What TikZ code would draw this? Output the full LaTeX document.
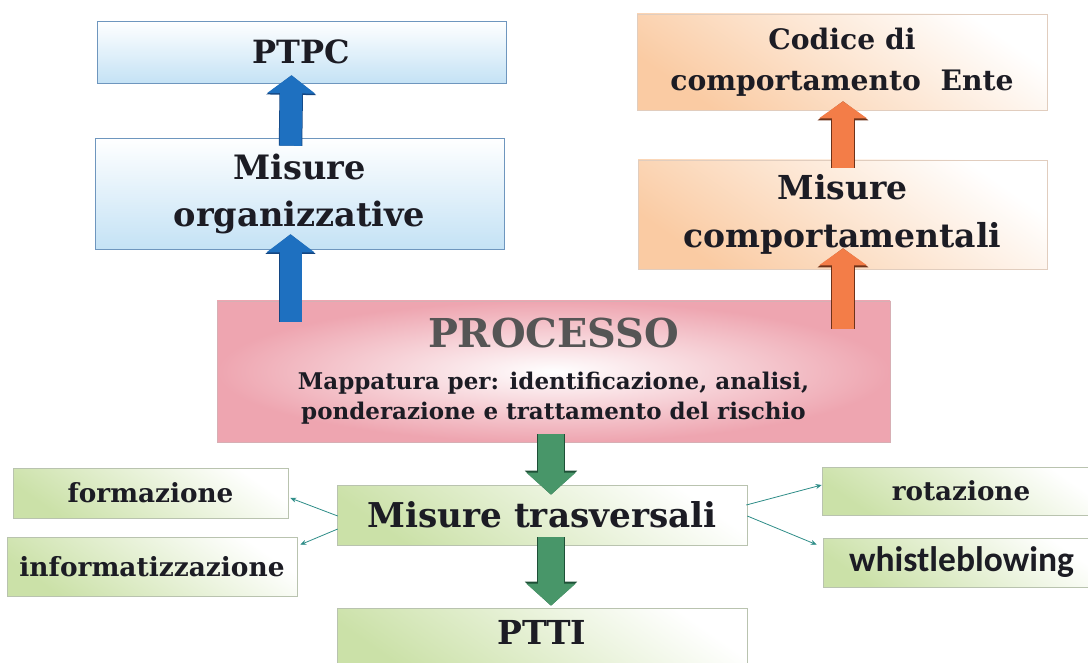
\documentclass[tikz,border=0pt]{standalone}
\usepackage{fontspec}
\setmainfont{DejaVu Serif}
\newfontfamily\calib{Carlito}
\usetikzlibrary{arrows.meta,calc}

\definecolor{inkc}{RGB}{28,28,36}
\definecolor{procgray}{RGB}{85,85,85}
\definecolor{bluefill}{RGB}{196,226,245}
\definecolor{bluebd}{RGB}{110,150,190}
\definecolor{orfill}{RGB}{250,203,163}
\definecolor{orbd}{RGB}{225,205,190}
\definecolor{pinkfill}{RGB}{238,165,176}
\definecolor{pinkbd}{RGB}{215,175,180}
\definecolor{grfill}{RGB}{203,225,168}
\definecolor{grbd}{RGB}{185,195,175}
\definecolor{bluearr}{RGB}{30,112,192}
\definecolor{bluedk}{RGB}{20,70,130}
\definecolor{orarr}{RGB}{243,125,72}
\definecolor{ordk}{RGB}{110,50,25}
\definecolor{grarr}{RGB}{72,150,105}
\definecolor{grdk}{RGB}{30,80,55}
\definecolor{linkc}{RGB}{45,140,135}

\tikzset{
  box/.style={line width=0.6pt, inner sep=0pt, align=center, text=inkc},
  bluebox/.style={box, draw=bluebd, top color=white, bottom color=bluefill},
  orbox/.style={box, draw=orbd, top color=white, bottom color=orfill, shading angle=-35},
  pinkbox/.style={box, draw=pinkbd, inner color=white, outer color=pinkfill},
  grbox/.style={box, draw=grbd, top color=white, bottom color=grfill, shading angle=-35},
  bluearrow/.style={draw=bluearr, line width=22pt, -{Triangle[width=47pt,length=18pt]},
    preaction={draw=bluedk, line width=23.5pt, -{Triangle[width=49pt,length=19.5pt]}}},
  orarrow/.style={draw=orarr, line width=22pt, -{Triangle[width=47pt,length=17pt]},
    preaction={draw=ordk, line width=24pt, -{Triangle[width=50pt,length=19pt]}}},
  grarrow/.style={draw=grarr, line width=26pt, -{Triangle[width=48pt,length=22pt]},
    preaction={draw=grdk, line width=28pt, -{Triangle[width=51pt,length=24pt]}}},
  thinarrow/.style={draw=linkc, line width=0.8pt, -{Stealth[length=6pt,width=5pt]}}
}

\begin{document}
\begin{tikzpicture}[x=1pt,y=-1pt]
\useasboundingbox (0,0) rectangle (1088,663);
\clip (0,0) rectangle (1088,663);
\node[bluebox, minimum width=409, minimum height=62, font=\bfseries\fontsize{32}{38}\selectfont] (ptpc) at (301.5,52) {PTPC};
\node[bluebox, minimum width=409, minimum height=111, font=\bfseries\fontsize{33.6}{47}\selectfont] (org) at (299.5,193.5) {Misure\\organizzative};
\node[orbox, minimum width=410, minimum height=96, font=\bfseries\fontsize{28.2}{41}\selectfont] (codice) at (842,62) {Codice di\\comportamento\ \ Ente};
\node[orbox, minimum width=409, minimum height=109, font=\bfseries\fontsize{33}{48}\selectfont] (comp) at (842.5,214.5) {Misure\\comportamentali};
\node[pinkbox, minimum width=673, minimum height=141, font=\bfseries\fontsize{23}{30}\selectfont] (proc) at (553.5,371.5)
  {{\color{procgray}\fontsize{39.8}{44}\selectfont PROCESSO}\\[12pt]
   Mappatura per: identificazione, analisi,\\ponderazione e trattamento del rischio};
\node[grbox, minimum width=410, minimum height=60, font=\bfseries\fontsize{34.2}{40}\selectfont] (trasv) at (542,515) {Misure trasversali};
\node[grbox, minimum width=410, minimum height=64, text depth=16pt, font=\bfseries\fontsize{33}{40}\selectfont] (ptti) at (542,640) {PTTI};
\node[grbox, minimum width=275, minimum height=50, font=\bfseries\fontsize{26.3}{31}\selectfont] (form) at (150.5,493) {formazione};
\node[grbox, minimum width=290, minimum height=59, font=\bfseries\fontsize{26.4}{31}\selectfont] (inform) at (152,566.5) {informatizzazione};
\node[grbox, minimum width=278, minimum height=48, font=\bfseries\fontsize{26.2}{30}\selectfont] (rot) at (961,491) {rotazione};
\node[grbox, minimum width=277, minimum height=49, font=\calib\bfseries\fontsize{35.5}{40}\selectfont] (whistle) at (961.5,562.5) {whistleblowing};
\draw[bluearrow] ($(org.north)+(-9,8)$) -- ($(ptpc.south)+(-10,-8)$);
\draw[bluearrow] ($(org.south |- proc.north)+(-9,21)$) -- ($(org.south)+(-9,-15)$);
\draw[orarrow] ($(comp.north)+(0.5,8)$) -- ($(codice.south)+(1,-9)$);
\draw[orarrow] ($(comp.south |- proc.north)+(0.5,28)$) -- ($(comp.south)+(0.5,-21)$);
\draw[grarrow] ($(proc.south)+(-2.5,-8)$) -- ($(trasv.north)+(9,10)$);
\draw[grarrow] ($(trasv.south)+(9,-8)$) -- ($(ptti.north)+(9,-2)$);
\draw[thinarrow] ($(trasv.west)+(1,1)$) -- ($(form.east)+(2,5)$);
\draw[thinarrow] ($(trasv.west)+(1,14)$) -- ($(inform.north east)+(3,8)$);
\draw[thinarrow] ($(trasv.east)+(-1,-10)$) -- ($(rot.west)+(0,-6)$);
\draw[thinarrow] ($(trasv.east)+(0,1)$) -- ($(whistle.north west)+(-6,7)$);
\end{tikzpicture}
\end{document}
